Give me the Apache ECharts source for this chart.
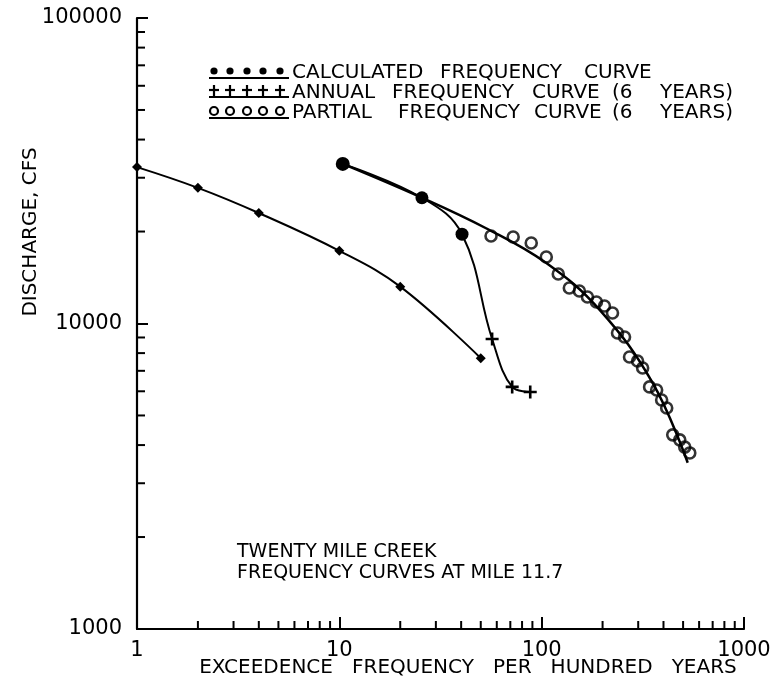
<!DOCTYPE html>
<html>
<head>
<meta charset="utf-8">
<script src="https://cdn.jsdelivr.net/npm/echarts@6/dist/echarts.min.js"></script>
<style>
  html, body { margin: 0; padding: 0; background: #fff; }
  #chart { width: 775px; height: 685px; }
</style>
</head>
<body>
<div id="chart"></div>
<script>
// Calculated frequency curve (exceedence per 100 yrs, discharge cfs)
const calculatedFreq = [1, 2, 4, 10, 20, 50];
const calculatedFlow = [32500, 27800, 23000, 17300, 13200, 7700];

// Annual frequency curve, 6 years of record
const annualFreq = [10.4, 25.6, 40.4, 56.9, 71.5, 87.8];
const annualFlow = [33300, 25800, 19600, 8900, 6200, 5970];

// Partial-duration frequency curve: fitted line and plotted events
const partialFitFreq = [10.4, 25.6, 53.1, 105, 193, 353, 527];
const partialFitFlow = [33300, 25800, 20500, 15800, 11100, 6400, 3500];
const partialFreq = [56.2, 72.3, 88.8, 105.4, 120.8, 137, 153.6, 168.4, 186.5, 204.3, 223.9, 237.1,
                     256.8, 271.8, 297.8, 315.5, 341.5, 370, 391.7, 414.9, 444.4, 481.3, 509.5, 539.5];
const partialFlow = [19340, 19190, 18340, 16500, 14520, 13070, 12780, 12210, 11760, 11410, 10820, 9310,
                     9030, 7770, 7540, 7150, 6200, 6060, 5620, 5290, 4320, 4160, 3940, 3770];

// Axis ranges and labelled decades
const xTickLabels = [1, 10, 100, 1000];
const yTickLabels = [1000, 10000, 100000];

const FONT = 'DejaVu Sans';
const zip = (a, b) => a.map((v, i) => [v, b[i]]);

// log-cycle minor ticks (2..9 within each decade)
const minorTicks = [];
for (let d = xTickLabels[0]; d < xTickLabels[xTickLabels.length - 1]; d *= 10) {
  for (let k = 2; k <= 9; k++) minorTicks.push([d * k, yTickLabels[0], 0]);
}
for (let d = yTickLabels[0]; d < yTickLabels[yTickLabels.length - 1]; d *= 10) {
  for (let k = 2; k <= 9; k++) minorTicks.push([xTickLabels[0], d * k, 1]);
}

const plusPath = 'path://M4,0H6V4H10V6H6V10H4V6H0V4H4Z';

function word(text, x, y, size) {
  return {
    type: 'text', x: x, y: y, silent: true,
    style: { text: text, fill: '#000', fontSize: size || 20, fontFamily: FONT,
             textAlign: 'left', textVerticalAlign: 'middle', verticalAlign: 'middle' }
  };
}

// legend key rows: five symbols with an underline
const keyX = [214, 230, 247, 263, 280];
const legendKeys = [];
keyX.forEach(x => {
  legendKeys.push({ type: 'circle', silent: true, shape: { cx: x, cy: 71, r: 3.6 },
    style: { fill: '#000' } });
  legendKeys.push({ type: 'line', silent: true, shape: { x1: x - 5, y1: 90, x2: x + 5, y2: 90 },
    style: { stroke: '#000', lineWidth: 2.2 } });
  legendKeys.push({ type: 'line', silent: true, shape: { x1: x, y1: 85, x2: x, y2: 96 },
    style: { stroke: '#000', lineWidth: 2.2 } });
  legendKeys.push({ type: 'circle', silent: true, shape: { cx: x, cy: 111, r: 4 },
    style: { fill: 'none', stroke: '#000', lineWidth: 2.2 } });
});
[78, 97, 118].forEach(y => legendKeys.push({ type: 'line', silent: true,
  shape: { x1: 209, y1: y, x2: 289, y2: y }, style: { stroke: '#000', lineWidth: 2.2 } }));

const chart = echarts.init(document.getElementById('chart'));
chart.setOption({
  animation: false,
  backgroundColor: '#fff',
  grid: { left: 137, right: 31, top: 18, bottom: 56 },
  xAxis: {
    type: 'log', logBase: 10, min: xTickLabels[0], max: xTickLabels[xTickLabels.length - 1],
    axisLine: { lineStyle: { color: '#000', width: 2.2 } },
    axisTick: { inside: true, length: 12, lineStyle: { color: '#000', width: 2 } },
    splitLine: { show: false },
    axisLabel: { color: '#000', fontSize: 21, fontFamily: FONT, margin: 11,
                 formatter: v => String(Math.round(v)) }
  },
  yAxis: {
    type: 'log', logBase: 10, min: yTickLabels[0], max: yTickLabels[yTickLabels.length - 1],
    axisLine: { lineStyle: { color: '#000', width: 2.2 } },
    axisTick: { inside: true, length: 11, lineStyle: { color: '#000', width: 2 } },
    splitLine: { show: false },
    axisLabel: { color: '#000', fontSize: 21, fontFamily: FONT, margin: 15,
                 formatter: v => String(Math.round(v)) }
  },
  graphic: [
    { type: 'text', x: 31, y: 232, rotation: Math.PI / 2, silent: true,
      style: { text: 'DISCHARGE, CFS', fill: '#000', fontSize: 20, fontFamily: FONT,
               textAlign: 'center', textVerticalAlign: 'middle', verticalAlign: 'middle' } },
    { type: 'text', x: 468, y: 668, silent: true,
      style: { text: 'EXCEEDENCE   FREQUENCY   PER   HUNDRED   YEARS', fill: '#000', fontSize: 20,
               fontFamily: FONT, textAlign: 'center', textVerticalAlign: 'middle', verticalAlign: 'middle' } },
    word('TWENTY MILE CREEK', 237, 552, 19),
    word('FREQUENCY CURVES AT MILE 11.7', 237, 573, 19),
    word('CALCULATED', 292, 73), word('FREQUENCY', 440, 73), word('CURVE', 584, 73),
    word('ANNUAL', 292, 93), word('FREQUENCY', 392, 93), word('CURVE', 532, 93),
    word('(6', 612, 93), word('YEARS)', 660, 93),
    word('PARTIAL', 292, 113), word('FREQUENCY', 398, 113), word('CURVE', 534, 113),
    word('(6', 612, 113), word('YEARS)', 660, 113)
  ].concat(legendKeys),
  series: [
    {
      name: 'CALCULATED FREQUENCY CURVE', type: 'line', smooth: 0.4,
      data: zip(calculatedFreq, calculatedFlow),
      symbol: 'diamond', symbolSize: 10,
      lineStyle: { color: '#000', width: 2 }, itemStyle: { color: '#000' }
    },
    {
      name: 'ANNUAL FREQUENCY CURVE (6 YEARS)', type: 'line', smooth: 0.4,
      data: zip(annualFreq, annualFlow),
      symbol: (v, p) => (p.dataIndex < 3 ? 'circle' : plusPath),
      symbolSize: (v, p) => (p.dataIndex === 0 ? 14 : 13),
      lineStyle: { color: '#000', width: 2 }, itemStyle: { color: '#000' }
    },
    {
      name: 'PARTIAL FREQUENCY CURVE (6 YEARS)', type: 'line', smooth: 0.4,
      data: zip(partialFitFreq, partialFitFlow), showSymbol: false,
      lineStyle: { color: '#000', width: 2.5 }
    },
    {
      name: 'PARTIAL EVENTS', type: 'scatter',
      data: zip(partialFreq, partialFlow),
      symbol: 'circle', symbolSize: 11,
      itemStyle: { color: 'rgba(255,255,255,0)', borderColor: '#000', borderWidth: 2.6 }
    },
    {
      type: 'custom', clip: false, silent: true,
      data: minorTicks,
      encode: { x: 0, y: 1 },
      renderItem: (params, api) => {
        const p = api.coord([api.value(0), api.value(1)]);
        const isY = api.value(2) === 1;
        return {
          type: 'line',
          shape: isY ? { x1: p[0], y1: p[1], x2: p[0] + 8, y2: p[1] }
                     : { x1: p[0], y1: p[1], x2: p[0], y2: p[1] - 8 },
          style: { stroke: '#000', lineWidth: 2 }
        };
      }
    }
  ]
});
</script>
</body>
</html>
